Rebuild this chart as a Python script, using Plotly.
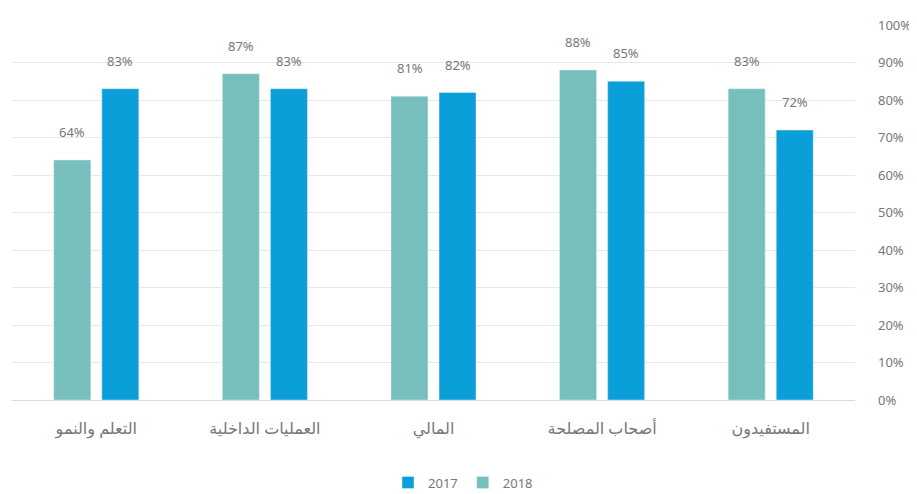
import plotly.graph_objects as go

categories = ["التعلم والنمو", "العمليات الداخلية", "المالي", "أصحاب المصلحة", "المستفيدون"]
values_2017 = [83, 83, 82, 85, 72]
values_2018 = [64, 87, 81, 88, 83]
y_ticks = [0, 10, 20, 30, 40, 50, 60, 70, 80, 90, 100]
y_tick_labels = [f"{v}%" for v in y_ticks]

c2017 = "#0A9FD9"
c2018 = "#76BFBC"
font_fam = "Noto Sans, DejaVu Sans, sans-serif"

fig = go.Figure()
fig.add_trace(go.Bar(name="2018", x=categories, y=values_2018, marker_color=c2018))
fig.add_trace(go.Bar(name="2017", x=categories, y=values_2017, marker_color=c2017))

annotations = []
for cat, v in zip(categories, values_2017):
    annotations.append(dict(x=cat, y=v, xref="x", yref="y", text=f"{v}%", showarrow=False,
                            xshift=24, yshift=28, font=dict(size=13, color="#777", family=font_fam)))
for cat, v in zip(categories, values_2018):
    annotations.append(dict(x=cat, y=v, xref="x", yref="y", text=f"{v}%", showarrow=False,
                            xshift=-24, yshift=28, font=dict(size=13, color="#777", family=font_fam)))

fig.update_layout(
    width=917, height=494,
    margin=dict(l=4, r=70, t=17, b=102),
    paper_bgcolor="white", plot_bgcolor="white",
    barmode="group", bargap=0.43, bargroupgap=0.23,
    font=dict(family=font_fam, color="#777", size=12),
    legend=dict(orientation="h", x=0.535, xanchor="center", y=-0.22, yanchor="middle",
                font=dict(size=13, color="#777"), traceorder="reversed", itemwidth=30),
    annotations=annotations,
    xaxis=dict(showgrid=False, showline=True, linecolor="#DDDDDD",
               tickfont=dict(size=16, color="#777"), ticks="", ticklabelstandoff=14),
    yaxis=dict(side="right", range=[0, 100], tickvals=y_ticks, ticktext=y_tick_labels,
               showgrid=True, gridcolor="#E8E8E8", zeroline=False, ticks="",
               tickfont=dict(size=13, color="#777"), ticklabelstandoff=22),
)

fig.write_html("out.html")
